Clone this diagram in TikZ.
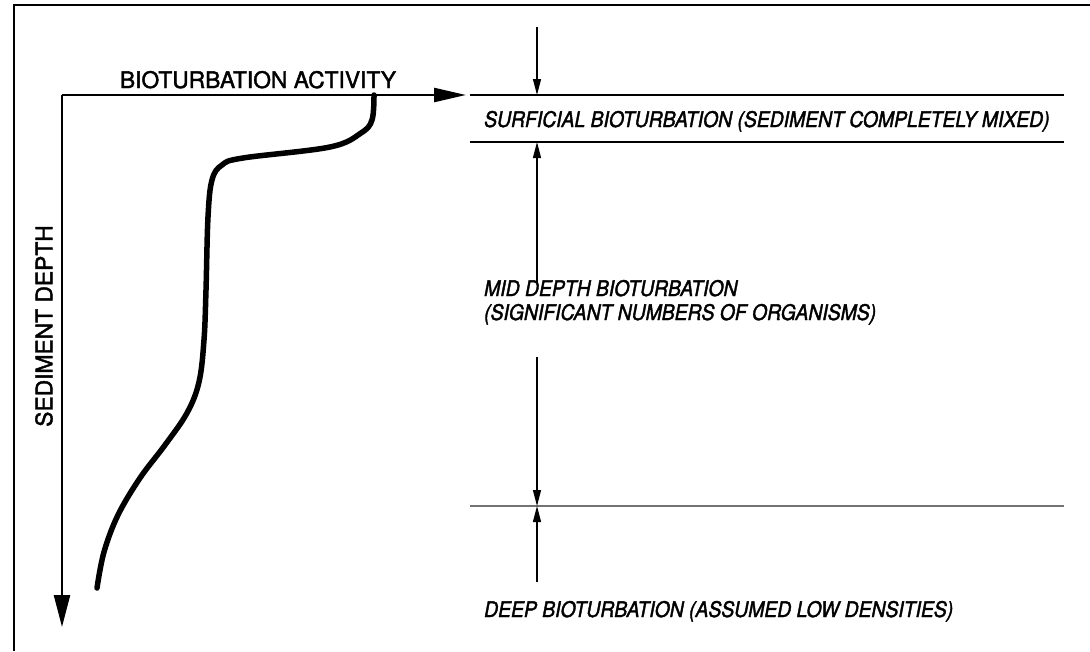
\documentclass[tikz,border=0pt]{standalone}
\usepackage{fontspec}
\setmainfont{TeX Gyre Heros}
\newfontfamily\axisfont[FakeBold=1.8]{TeX Gyre Heros}
\newfontfamily\condfont[FakeStretch=0.9,FakeBold=1.8]{TeX Gyre Heros}
\usetikzlibrary{arrows.meta}
\begin{document}
\begin{tikzpicture}[x=1pt,y=-1pt,
  axislabel/.style={font=\axisfont\fontsize{22.8}{26}\selectfont, inner sep=0pt},
  zonelabel/.style={font=\condfont\itshape\fontsize{21.5}{24}\selectfont, inner sep=0pt, align=left},
  axisline/.style={line width=2.4pt},
  zoneline/.style={line width=1.4pt},
  dimarrow/.style={line width=1.3pt, -{Triangle[length=16pt,width=8pt]}},
  profile/.style={line width=5.5pt, line cap=round, line join=round}]
\useasboundingbox (0,0) rectangle (1090,651);
% frame
\draw[line width=2.6pt] (14,651) -- (14,5) -- (1090,5);
% axes
\coordinate (O) at (62,95);
\coordinate (xend) at (466,95);
\coordinate (yend) at (62,627);
\draw[axisline, -{Triangle[length=32pt,width=14pt]}] (O) -- (xend);
\draw[axisline, -{Triangle[length=32pt,width=16pt]}] (O) -- (yend);
\node[axislabel, anchor=base] (xlab) at (258,88) {BIOTURBATION ACTIVITY};
\node[axislabel, rotate=90] (ylab) at (44,326) {SEDIMENT DEPTH};
% profile curve
\draw[profile] plot[smooth, tension=0.6] coordinates {
  (374,95) (372,120) (361,133) (330,147) (243,158) (222,165) (212,180)
  (208,217) (206,290) (204,340) (199,382) (187,413) (165,445) (140,478)
  (118,515) (104,552) (97,588)};
% zone boundaries
\coordinate (b1L) at (470,95);  \coordinate (b1R) at (1064,95);
\coordinate (b2L) at (470,142); \coordinate (b2R) at (1064,142);
\coordinate (b3L) at (470,506); \coordinate (b3R) at (1064,506);
\draw[zoneline] (b1L) -- (b1R);
\draw[zoneline] (b2L) -- (b2R);
\draw[zoneline, draw=black!55, line width=2pt] (b3L) -- (b3R);
% zone labels
\node[zonelabel, anchor=base west] (surf) at (484,127) {SURFICIAL BIOTURBATION (SEDIMENT COMPLETELY MIXED)};
\node[zonelabel, anchor=base west] (mid) at (484,320) {MID DEPTH BIOTURBATION\\(SIGNIFICANT NUMBERS OF ORGANISMS)};
\node[zonelabel, anchor=base west] (deep) at (484,617) {DEEP BIOTURBATION (ASSUMED LOW DENSITIES)};
% dimension arrows
\coordinate (a1s) at (537,27);  \coordinate (a1e) at (537,95);
\coordinate (a2s) at (537,283); \coordinate (a2e) at (537,142);
\coordinate (a3s) at (537,357); \coordinate (a3e) at (537,506);
\coordinate (a4s) at (537,582); \coordinate (a4e) at (537,506);
\draw[dimarrow] (a1s) -- (a1e);
\draw[dimarrow] (a2s) -- (a2e);
\draw[dimarrow] (a3s) -- (a3e);
\draw[dimarrow] (a4s) -- (a4e);
\end{tikzpicture}
\end{document}
